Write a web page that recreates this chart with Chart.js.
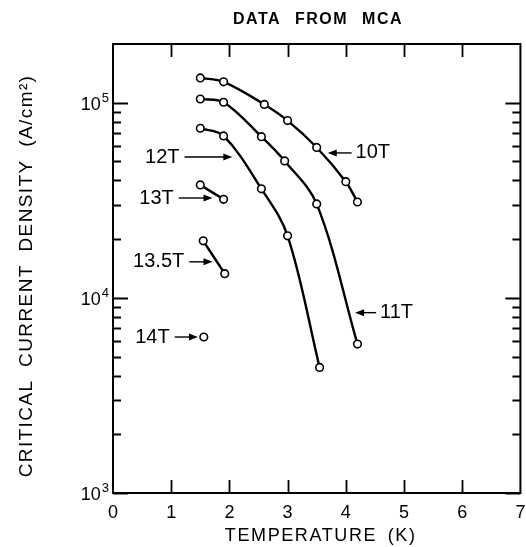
<!DOCTYPE html>
<html lang="en">
<head>
    <meta charset="UTF-8">
    <title>Data from MCA</title>
    <script src="https://cdn.jsdelivr.net/npm/chart.js"></script>
    <style>
        body {
            margin: 0;
            padding: 0;
            background: #fff;
        }
        #chart {
            display: block;
        }
    </style>
</head>
<body>
    <canvas id="chart" width="526" height="547"></canvas>

    <script>
        // temperatures (K) and critical current densities (A/cm^2) per field
        const temps10T = [1.5, 1.9, 2.6, 3.0, 3.5, 4.0, 4.2];
        const jc10T = [134000, 128000, 98000, 81000, 59000, 39400, 31000];
        const temps11T = [1.5, 1.9, 2.55, 2.95, 3.5, 4.2];
        const jc11T = [104500, 100600, 67000, 50300, 30300, 5800];
        const temps12T = [1.5, 1.9, 2.55, 3.0, 3.55];
        const jc12T = [74000, 67600, 36200, 20800, 4400];
        const temps13T = [1.5, 1.9];
        const jc13T = [37900, 32000];
        const temps135T = [1.55, 1.92];
        const jc135T = [19600, 13300];
        const temps14T = [1.56];
        const jc14T = [6300];

        const xTicks = [0, 1, 2, 3, 4, 5, 6, 7];
        const decades = [1e3, 1e4, 1e5];
        const yMax = 2e5;

        // field labels with arrows (data coords)
        const notes = [
            { text: '10T', side: 'right', y: 55300, from: 4.10, to: 3.69 },
            { text: '11T', side: 'right', y: 8400, from: 4.52, to: 4.16 },
            { text: '12T', side: 'left', y: 52700, from: 1.23, to: 2.05 },
            { text: '13T', side: 'left', y: 32500, from: 1.13, to: 1.71 },
            { text: '13.5T', side: 'left', y: 15300, from: 1.31, to: 1.71 },
            { text: '14T', side: 'left', y: 6300, from: 1.06, to: 1.46 }
        ];

        function toPoints(xs, ys) {
            return xs.map((x, i) => ({ x: x, y: ys[i] }));
        }

        function series(label, xs, ys) {
            return {
                label: label,
                data: toPoints(xs, ys),
                showLine: true,
                borderColor: '#000',
                borderWidth: 2.4,
                tension: 0.35,
                pointRadius: 3.8,
                pointBorderWidth: 1.6,
                pointBackgroundColor: '#fff',
                pointBorderColor: '#000'
            };
        }

        // y ticks 1..9 per decade up to the top of the axis
        const yTickValues = [];
        decades.forEach(d => {
            for (let m = 1; m <= 9; m++) {
                if (d * m <= yMax) yTickValues.push(d * m);
            }
        });
        yTickValues.push(yMax);

        const FONT = '"Liberation Sans", Arial, sans-serif';

        const framePlugin = {
            id: 'frame',
            afterDraw(chart) {
                const ctx = chart.ctx;
                const a = chart.chartArea;
                const xs = chart.scales.x;
                const ys = chart.scales.y;
                ctx.save();
                ctx.strokeStyle = '#000';
                ctx.fillStyle = '#000';
                ctx.lineWidth = 2;
                ctx.strokeRect(a.left, a.top, a.right - a.left, a.bottom - a.top);

                // ticks pointing inward
                ctx.lineWidth = 1.8;
                ctx.beginPath();
                yTickValues.forEach(v => {
                    if (v >= yMax) return;
                    const py = Math.round(ys.getPixelForValue(v)) + 0.5;
                    const major = decades.includes(v);
                    const len = major ? 15 : 8;
                    ctx.moveTo(a.left, py); ctx.lineTo(a.left + len, py);
                    ctx.moveTo(a.right, py); ctx.lineTo(a.right - len, py);
                });
                xTicks.forEach(v => {
                    if (v === xTicks[0] || v === xTicks[xTicks.length - 1]) return;
                    const px = Math.round(xs.getPixelForValue(v)) + 0.5;
                    ctx.moveTo(px, a.bottom); ctx.lineTo(px, a.bottom - 13);
                    ctx.moveTo(px, a.top); ctx.lineTo(px, a.top + 13);
                });
                ctx.stroke();

                // decade labels 10^n with a raised exponent
                ctx.textBaseline = 'alphabetic';
                ctx.textAlign = 'right';
                decades.forEach(d => {
                    const py = ys.getPixelForValue(d);
                    const exp = String(Math.round(Math.log10(d)));
                    ctx.font = '13px ' + FONT;
                    const ew = ctx.measureText(exp).width;
                    ctx.fillText(exp, a.left - 4, py - 1);
                    ctx.font = '18px ' + FONT;
                    ctx.fillText('10', a.left - 5 - ew, py + 7);
                });

                // field labels and arrows
                ctx.font = '20px ' + FONT;
                ctx.textBaseline = 'middle';
                ctx.lineWidth = 1.4;
                notes.forEach(n => {
                    const y = ys.getPixelForValue(n.y);
                    const x0 = xs.getPixelForValue(n.from);
                    const x1 = xs.getPixelForValue(n.to);
                    const dir = Math.sign(x1 - x0);
                    ctx.beginPath();
                    ctx.moveTo(x0, y);
                    ctx.lineTo(x1 - dir * 6, y);
                    ctx.stroke();
                    ctx.beginPath();
                    ctx.moveTo(x1, y);
                    ctx.lineTo(x1 - dir * 9, y - 3.5);
                    ctx.lineTo(x1 - dir * 9, y + 3.5);
                    ctx.closePath();
                    ctx.fill();
                    if (n.side === 'left') {
                        ctx.textAlign = 'right';
                        ctx.fillText(n.text, x0 - 5, y);
                    } else {
                        ctx.textAlign = 'left';
                        ctx.fillText(n.text, x0 + 4, y);
                    }
                });

                // titles
                ctx.textAlign = 'center';
                ctx.letterSpacing = '1.5px';
                ctx.wordSpacing = '8px';
                ctx.font = 'bold 16px ' + FONT;
                ctx.fillText('DATA FROM MCA', 318, 20);

                ctx.font = '18px ' + FONT;
                ctx.letterSpacing = '1.6px';
                ctx.wordSpacing = '4px';
                ctx.fillText('TEMPERATURE (K)', (a.left + a.right) / 2 + 4, 536);

                ctx.translate(27, 276);
                ctx.rotate(-Math.PI / 2);
                ctx.font = '19px ' + FONT;
                ctx.letterSpacing = '1.4px';
                ctx.wordSpacing = '6px';
                ctx.fillText('CRITICAL CURRENT DENSITY (A/cm\u00B2)', 0, 0);
                ctx.restore();
            }
        };

        new Chart(document.getElementById('chart'), {
            type: 'scatter',
            data: {
                datasets: [
                    series('10T', temps10T, jc10T),
                    series('11T', temps11T, jc11T),
                    series('12T', temps12T, jc12T),
                    series('13T', temps13T, jc13T),
                    series('13.5T', temps135T, jc135T),
                    series('14T', temps14T, jc14T)
                ]
            },
            options: {
                responsive: false,
                animation: false,
                layout: { padding: { top: 44, right: 3, bottom: 0, left: 0 } },
                plugins: {
                    legend: { display: false },
                    tooltip: { enabled: false }
                },
                scales: {
                    x: {
                        type: 'linear',
                        min: 0,
                        max: 7,
                        afterBuildTicks: s => { s.ticks = xTicks.map(v => ({ value: v })); },
                        afterFit: s => { s.height = 54; s.paddingLeft = 0; s.paddingRight = 0; },
                        grid: { display: false, drawTicks: false },
                        border: { display: false },
                        ticks: {
                            padding: 9,
                            color: '#000',
                            font: { family: FONT, size: 18 },
                            maxRotation: 0
                        }
                    },
                    y: {
                        type: 'logarithmic',
                        min: 1e3,
                        max: yMax,
                        afterBuildTicks: s => { s.ticks = yTickValues.map(v => ({ value: v })); },
                        afterFit: s => { s.width = 113; s.paddingTop = 0; s.paddingBottom = 0; },
                        grid: { display: false, drawTicks: false },
                        border: { display: false },
                        ticks: { display: false }
                    }
                }
            },
            plugins: [framePlugin]
        });
    </script>
</body>
</html>
